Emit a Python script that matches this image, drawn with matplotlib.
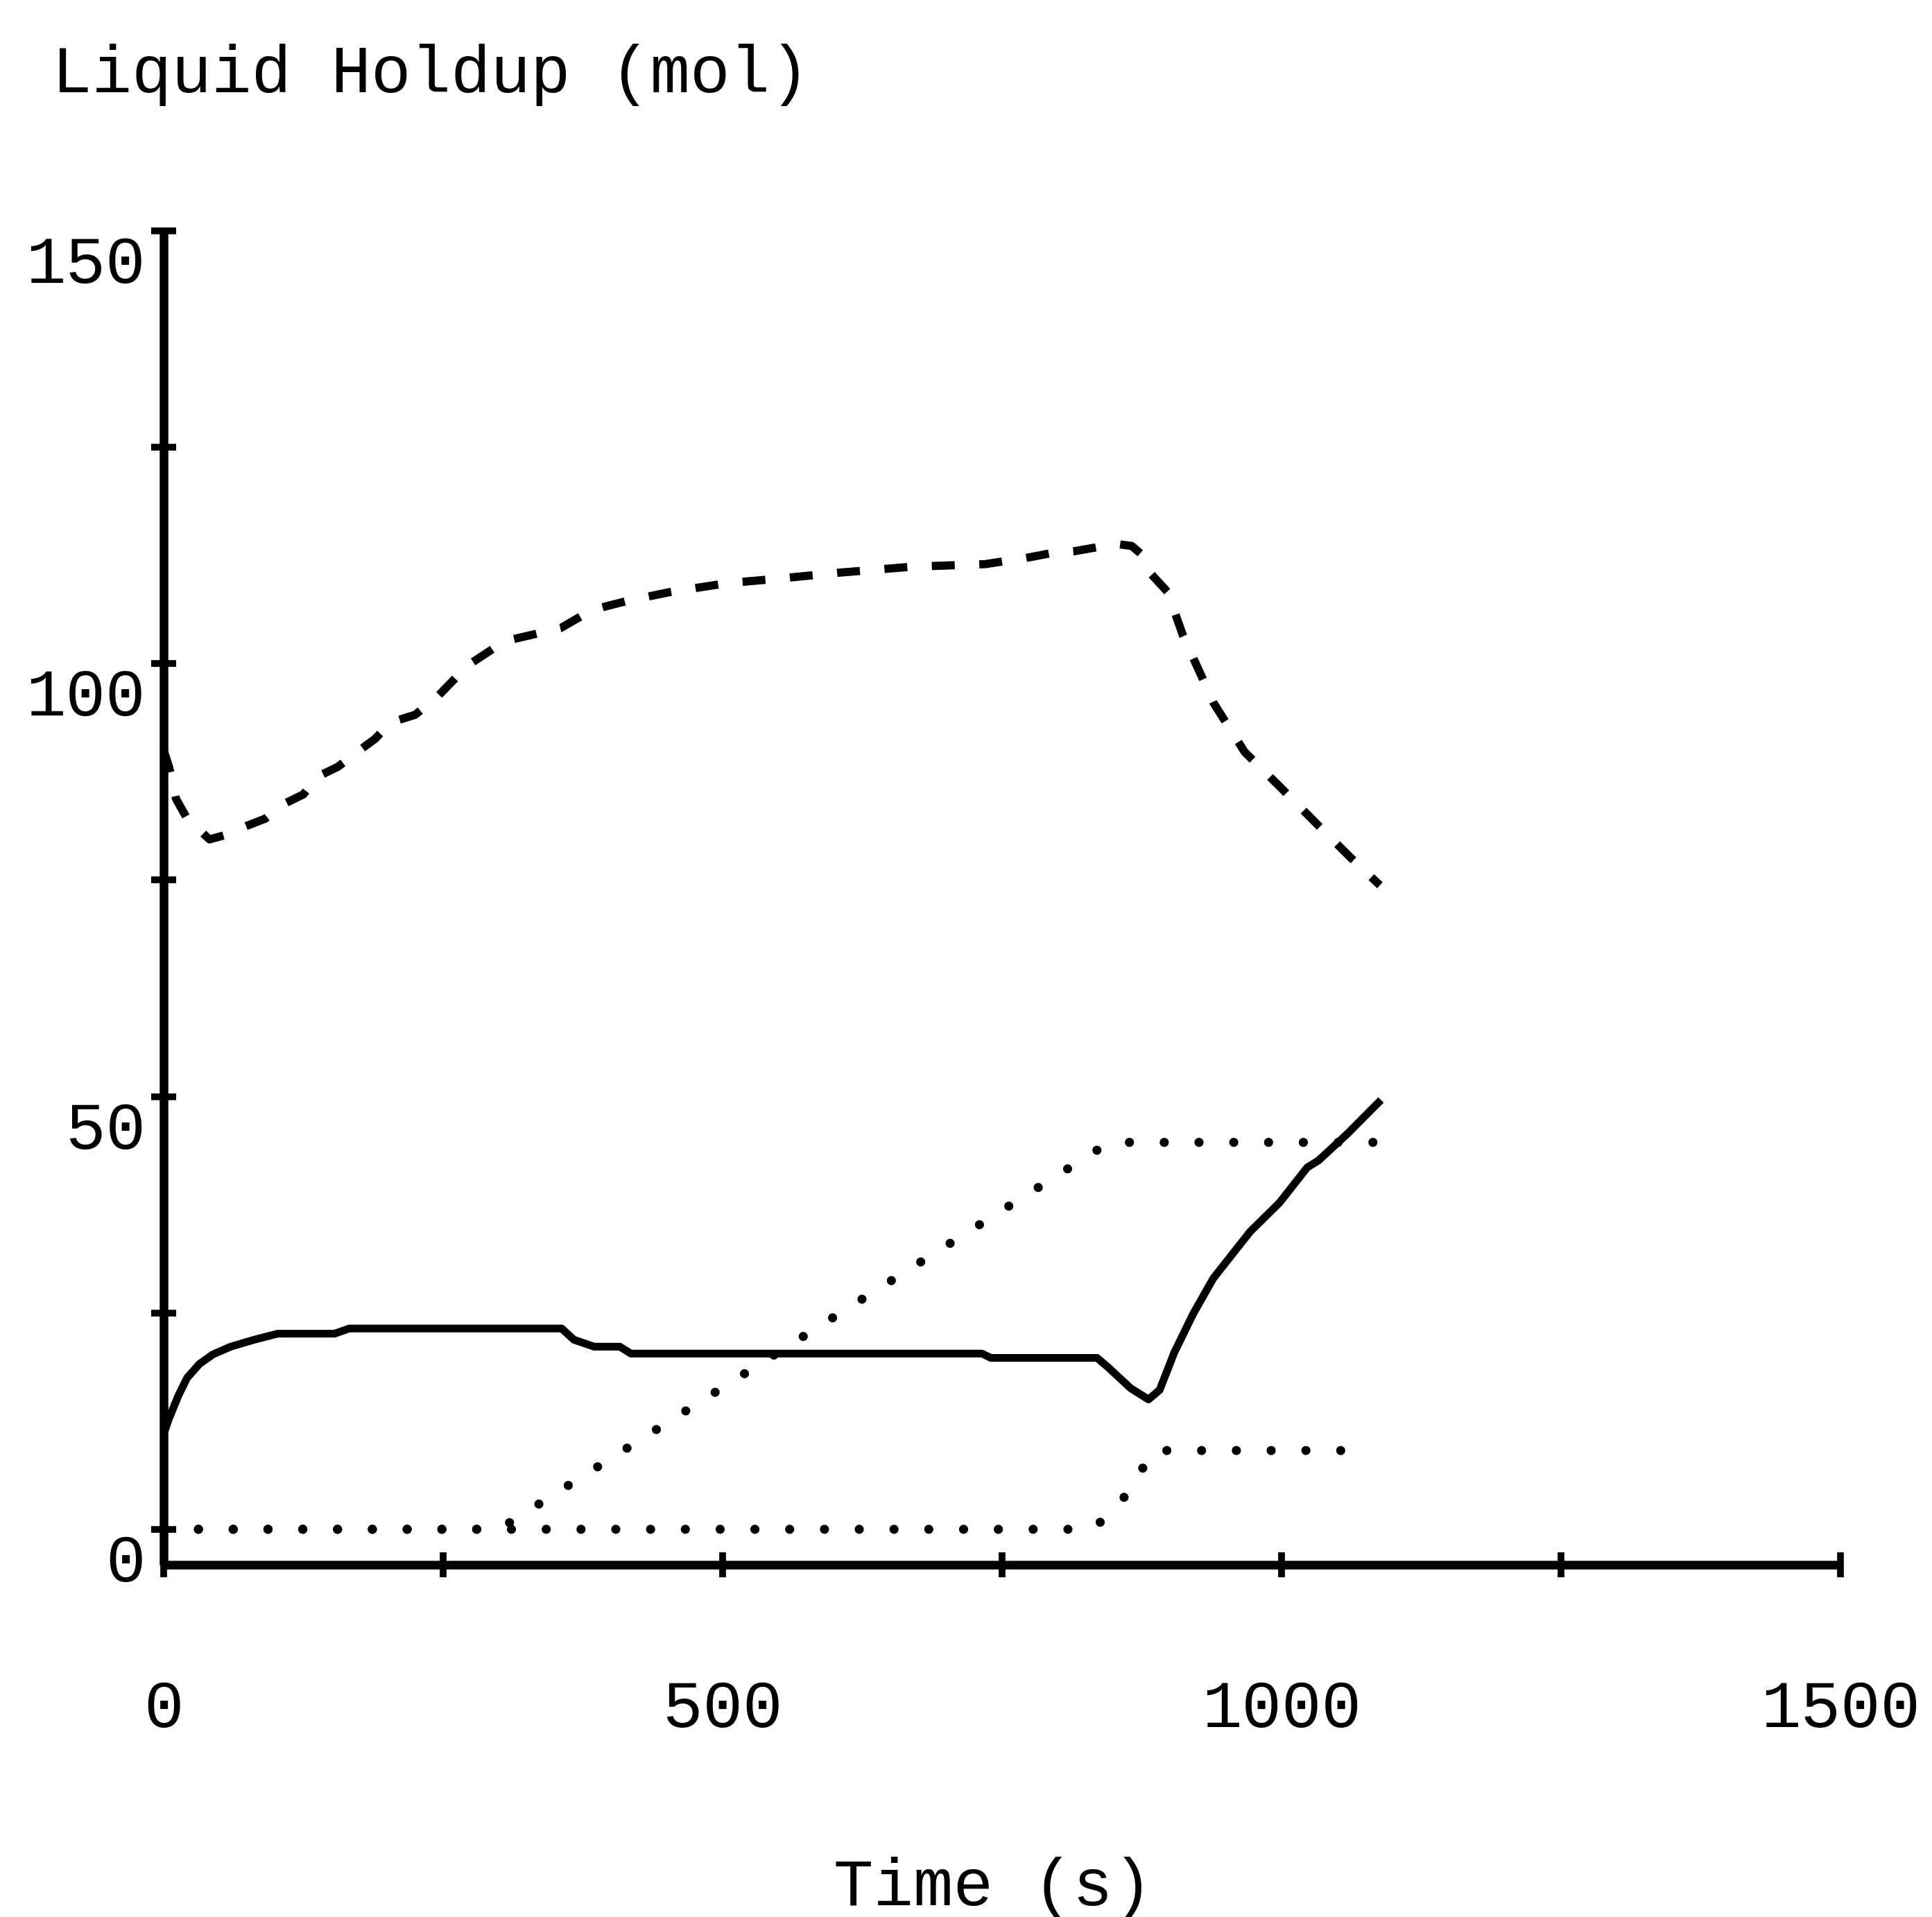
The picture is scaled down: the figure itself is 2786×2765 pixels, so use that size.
import matplotlib
matplotlib.use('Agg')
import matplotlib.pyplot as plt
from matplotlib.transforms import ScaledTranslation

plt.rcParams['font.family'] = ['Liberation Mono', 'DejaVu Sans Mono']

# liquid holdup (mol) against time (s)
t_dashed = [0, 5, 11, 21, 41, 55, 71, 91, 106, 125, 137, 156, 172, 189, 203, 225,
            245, 272, 305, 355, 383, 416, 454, 504, 548, 603, 669, 735, 775, 795,
            815, 837, 854, 866, 875, 883, 898, 912, 929, 939, 967, 1000, 1033,
            1061, 1088]
h_dashed = [90, 88, 84.4, 82.1, 79.7, 80.2, 81.1, 82.1, 83.7, 84.9, 86.9, 88.1,
            89.7, 91.3, 93.2, 94.1, 96.2, 99.8, 102.6, 104.1, 106.2, 107.3, 108.3,
            109.3, 109.8, 110.5, 111.2, 111.5, 112.3, 112.8, 113.0, 113.5, 113.8,
            113.6, 112.6, 110.4, 108.3, 103.2, 98.4, 95.5, 89.8, 85.6, 81.3, 77.7,
            74.4]

t_solid = [0, 4.5, 13, 21, 32, 44, 60, 81, 102, 153, 166, 356, 367, 385, 408,
           418, 732, 740, 835, 845, 865, 881, 891, 904, 921, 939, 972, 998, 1023,
           1033, 1059, 1089]
h_solid = [11, 12.7, 15.4, 17.5, 19.1, 20.2, 21.1, 21.9, 22.6, 22.6, 23.2, 23.2,
           21.9, 21.1, 21.1, 20.3, 20.3, 19.8, 19.8, 18.7, 16.3, 15.0, 16.1, 20.4,
           24.9, 29.0, 34.4, 37.7, 41.8, 42.6, 45.7, 49.6]

t_dot_a = [0, 300, 846, 1088]
h_dot_a = [0, 0, 44.7, 44.7]

t_dot_b = [0, 830, 850, 870, 884, 1070]
h_dot_b = [0, 0, 2.1, 5.6, 9.1, 9.1]

x_ticks = [0, 250, 500, 750, 1000, 1250, 1500]
x_labels = ['0', '', '500', '', '1000', '', '1500']
y_ticks = [0, 25, 50, 75, 100, 125, 150]
y_labels = ['0', '', '50', '', '100', '', '150']

fig = plt.figure(figsize=(27.86, 27.65), dpi=100)
ax = fig.add_axes([0.08471, 0.18373, 0.86791, 0.69584])

ax.plot(t_solid, h_solid, color='black', lw=8, solid_capstyle='butt',
        solid_joinstyle='round', clip_on=False)
ax.plot(t_dashed, h_dashed, color='black', lw=8.5, dashes=(2.8, 3.0),
        dash_capstyle='butt', clip_on=False)
for t, h in [(t_dot_a, h_dot_a), (t_dot_b, h_dot_b)]:
    ax.plot(t, h, color='black', lw=9.5, dashes=(0.001, 3.8),
            dash_capstyle='round', clip_on=False)

ax.set_xlim(0, 1500)
ax.set_ylim(-4.1, 150)
ax.spines['top'].set_visible(False)
ax.spines['right'].set_visible(False)
for s in ['left', 'bottom']:
    ax.spines[s].set_linewidth(9)
    ax.spines[s].set_capstyle('butt')

ax.set_xticks(x_ticks)
ax.set_xticklabels(x_labels)
ax.set_yticks(y_ticks)
ax.set_yticklabels(y_labels)
ax.tick_params(axis='both', direction='inout', length=26, width=7,
               labelsize=69, color='black')
ax.tick_params(axis='x', pad=105)
ax.tick_params(axis='y', pad=6)

# y labels sit a little below their ticks
shift = ScaledTranslation(0, -0.40, fig.dpi_scale_trans)
for lab in ax.get_yticklabels():
    lab.set_transform(lab.get_transform() + shift)

fig.text(75 / 2786, 1 - 133 / 2765, 'Liquid Holdup (mol)', fontsize=69,
         ha='left', va='baseline')
fig.text(1432 / 2786, 1 - 2748 / 2765, 'Time (s)', fontsize=69,
         ha='center', va='baseline')

fig.savefig('out.png', dpi=100, facecolor='white')
